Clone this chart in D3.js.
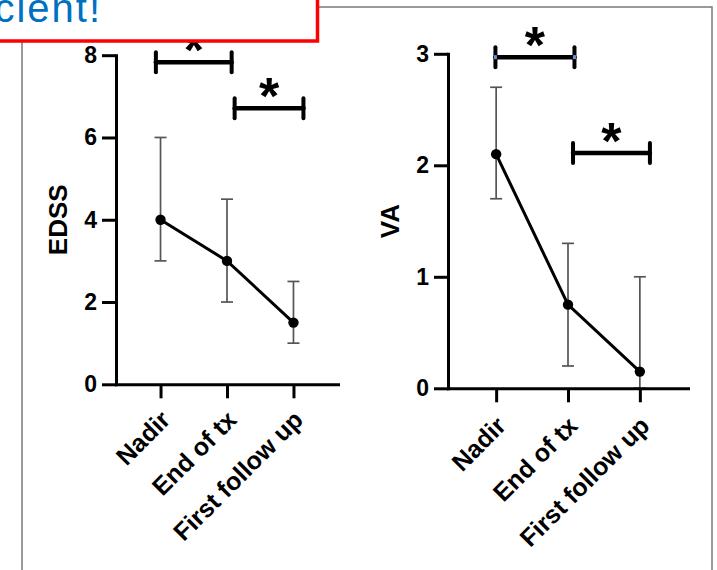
<!DOCTYPE html>
<html>
<head>
<meta charset="utf-8">
<script src="https://cdn.jsdelivr.net/npm/d3@7"></script>
<style>
  html, body { margin: 0; padding: 0; background: #fff; }
  svg { display: block; font-family: "Liberation Sans", Arial, sans-serif; }
</style>
</head>
<body>
<svg id="chart" width="717" height="570"></svg>
<script>
// --- data ---
const categories = ["Nadir", "End of tx", "First follow up"];

const edssMean = [4, 3, 1.5];
const edssLow  = [3, 2, 1];
const edssHigh = [6, 4.5, 2.5];
const edssTicks = [0, 2, 4, 6, 8];
// brackets in category-index units
const edssBrackets = [
  { from: -0.07, to: 1.07, y: 7.83 },
  { from: 1.115, to: 2.15, y: 6.71 }
];

const vaMean = [2.1, 0.75, 0.15];
const vaLow  = [1.7, 0.2, 0];
const vaHigh = [2.7, 1.3, 1.0];
const vaTicks = [0, 1, 2, 3];
const vaBrackets = [
  { from: -0.01, to: 1.09, y: 2.97, tint: true },
  { from: 1.07, to: 2.14, y: 2.11 }
];

const svg = d3.select("#chart");

// outer panel frame
svg.append("rect")
  .attr("x", 22).attr("y", 7)
  .attr("width", 690).attr("height", 600)
  .attr("fill", "#fff")
  .attr("stroke", "#7a7a7a")
  .attr("stroke-width", 1.5);

function drawPanel(o) {
  const g = svg.append("g");

  const x = d3.scalePoint().domain(categories).range([o.axisX, o.xEnd]).padding(0.67);
  const step = x.step();
  const xi = i => x(categories[0]) + i * step;
  const y = d3.scaleLinear().domain([0, o.max]).range([o.axisY, o.top]);

  const rows = categories.map((c, i) => ({ c, m: o.mean[i], lo: o.low[i], hi: o.high[i] }));

  // error bars
  const eb = g.append("g").attr("stroke", "#555").attr("stroke-width", 1.7).attr("fill", "none");
  rows.forEach(d => {
    eb.append("line").attr("x1", x(d.c)).attr("x2", x(d.c)).attr("y1", y(d.lo)).attr("y2", y(d.hi));
    [d.lo, d.hi].forEach(v => {
      eb.append("line").attr("x1", x(d.c) - 6).attr("x2", x(d.c) + 6).attr("y1", y(v)).attr("y2", y(v));
    });
  });

  // mean line + dots
  g.append("path")
    .datum(rows)
    .attr("fill", "none")
    .attr("stroke", "#000")
    .attr("stroke-width", 3)
    .attr("d", d3.line().x(d => x(d.c)).y(d => y(d.m)));

  g.selectAll("circle.dot").data(rows).join("circle")
    .attr("class", "dot")
    .attr("cx", d => x(d.c)).attr("cy", d => y(d.m)).attr("r", 5.2)
    .attr("fill", "#000");

  // axes
  const ya = g.append("g")
    .attr("transform", `translate(${o.axisX},0)`)
    .call(d3.axisLeft(y).tickValues(o.ticks).tickFormat(d3.format("d")).tickSize(14).tickSizeOuter(0).tickPadding(5));
  const xa = g.append("g")
    .attr("transform", `translate(0,${o.axisY})`)
    .call(d3.axisBottom(x).tickSize(14).tickSizeOuter(0).tickFormat(""));

  [ya, xa].forEach(a => {
    a.selectAll("path.domain").attr("stroke", "#000").attr("stroke-width", 3).attr("stroke-linecap", "square");
    a.selectAll(".tick line").attr("stroke", "#000").attr("stroke-width", 3);
  });
  ya.selectAll(".tick text")
    .attr("fill", "#000")
    .style("font-size", "23px").style("font-weight", "bold");

  // rotated category labels
  g.selectAll("text.cat").data(categories).join("text")
    .attr("class", "cat")
    .attr("transform", c => `translate(${x(c) + 5},${o.axisY + o.labelDrop}) rotate(-45)`)
    .attr("text-anchor", "end")
    .attr("dy", "0.35em")
    .style("font-size", "25px").style("font-weight", "bold")
    .text(c => c);

  // y title
  g.append("text")
    .attr("transform", `translate(${o.axisX - 49},${(o.axisY + o.top) / 2}) rotate(-90)`)
    .attr("text-anchor", "middle")
    .style("font-size", "26px").style("font-weight", "bold")
    .text(o.title);

  // significance brackets
  o.brackets.forEach(b => {
    const x1 = xi(b.from), x2 = xi(b.to), by = y(b.y);
    const bg = g.append("g").attr("stroke", "#000").attr("stroke-linecap", "round");
    bg.append("line").attr("x1", x1).attr("x2", x2).attr("y1", by).attr("y2", by).attr("stroke-width", 4.5);
    [x1, x2].forEach(xx => {
      bg.append("line").attr("x1", xx).attr("x2", xx).attr("y1", by - 10).attr("y2", by + 10).attr("stroke-width", 4);
      if (b.tint) {
        bg.append("line").attr("x1", xx).attr("x2", xx).attr("y1", by - 2).attr("y2", by + 2)
          .attr("stroke", "#6f8fd2").attr("stroke-width", 3).attr("stroke-linecap", "butt");
      }
    });
    g.append("text")
      .attr("x", (x1 + x2) / 2).attr("y", by + 6)
      .attr("text-anchor", "middle")
      .style("font-size", "52px").style("font-weight", "bold")
      .text("*");
  });
}

drawPanel({
  axisX: 116, xEnd: 338, axisY: 384.3, top: 55.2, max: 8,
  mean: edssMean, low: edssLow, high: edssHigh, ticks: edssTicks,
  brackets: edssBrackets, title: "EDSS", labelDrop: 31
});

drawPanel({
  axisX: 448, xEnd: 688, axisY: 388.3, top: 53.8, max: 3,
  mean: vaMean, low: vaLow, high: vaHigh, ticks: vaTicks,
  brackets: vaBrackets, title: "VA", labelDrop: 33
});

// red callout box on top (cut off at the top-left, as in the source)
const callout = svg.append("g");
callout.append("rect")
  .attr("x", -10).attr("y", -10)
  .attr("width", 327.5).attr("height", 51)
  .attr("fill", "#fff")
  .attr("stroke", "#ff0000")
  .attr("stroke-width", 3.5);
callout.append("text")
  .attr("x", 102).attr("y", 22)
  .attr("text-anchor", "end")
  .attr("fill", "#0070c0")
  .style("font-size", "40px")
  .style("letter-spacing", "2px")
  .text("cient!");
</script>
</body>
</html>
